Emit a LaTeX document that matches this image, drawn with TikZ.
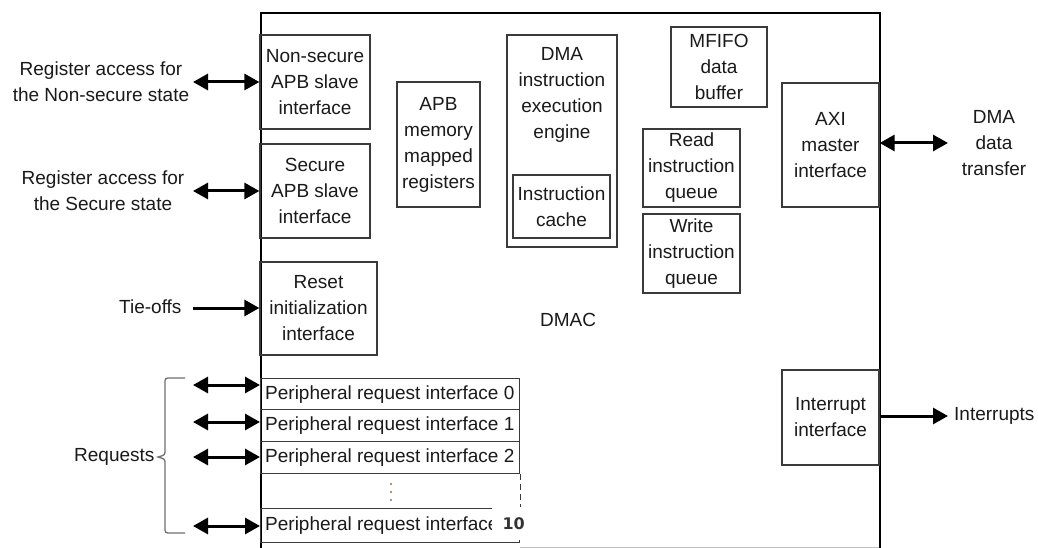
\documentclass[tikz,border=0pt]{standalone}
\usepackage{fontspec}
\setmainfont{Liberation Sans}
\newfontfamily\numfont{DejaVu Sans}
\usetikzlibrary{arrows.meta}
\definecolor{boxc}{HTML}{3A3A3A}
\definecolor{txt}{HTML}{1A1A1A}
\definecolor{numc}{HTML}{333333}
\definecolor{bracec}{HTML}{707070}
\begin{document}
\begin{tikzpicture}[x=1pt,y=-1pt,
  every node/.style={font=\fontsize{19}{26}\selectfont, text=txt},
  blk/.style={draw=boxc, line width=1.3pt, align=center, inner sep=0pt},
  prow/.style={draw=boxc, line width=1.3pt, minimum width=259pt, inner sep=0pt, anchor=north west},
  ptext/.style={anchor=west, inner sep=0pt},
  arr/.style={line width=3pt, -{Triangle[length=15pt,width=16pt]}},
  darr/.style={line width=3pt, {Triangle[length=15pt,width=16pt]}-{Triangle[length=15pt,width=16pt]}},
]
\useasboundingbox (0,0) rectangle (1038,548);
\fill[white] (0,0) rectangle (1038,548);

% outer DMAC box
\node[draw=black, line width=2pt, minimum width=619pt, minimum height=560pt, anchor=north west, inner sep=0pt] (dmac) at (260,12) {};
\draw[gray!50, line width=1pt] (520,547) -- (879,547);
\node (dmaclbl) at (568,320) {DMAC};

% internal blocks
\node[blk, minimum width=110pt, minimum height=94pt] (ns) at (315,82) {Non-secure\\APB slave\\interface};
\node[blk, minimum width=110pt, minimum height=94pt] (sec) at (315,191) {Secure\\APB slave\\interface};
\node[blk, minimum width=117pt, minimum height=93pt] (reset) at (318.5,308.5) {Reset\\initialization\\interface};
\node[blk, minimum width=83pt, minimum height=125pt] (apb) at (438.5,144.5) {APB\\memory\\mapped\\registers};
\node[blk, minimum width=110pt, minimum height=212pt] (dma) at (562,141) {};
\node[align=center, inner sep=0pt] (dmat) at (562,95) {DMA\\instruction\\execution\\engine};
\node[blk, minimum width=97pt, minimum height=63pt] (cache) at (561.5,206.5) {Instruction\\cache};
\node[blk, minimum width=96pt, minimum height=80pt] (mfifo) at (719,67) {MFIFO\\data\\buffer};
\node[blk, minimum width=97pt, minimum height=78pt] (rq) at (691.5,168) {Read\\instruction\\queue};
\node[blk, minimum width=97pt, minimum height=79pt] (wq) at (691.5,253.5) {Write\\instruction\\queue};
\node[blk, minimum width=97pt, minimum height=124pt] (axi) at (830.5,145) {AXI\\master\\interface};
\node[blk, minimum width=97pt, minimum height=95pt] (intr) at (830.5,417.5) {Interrupt\\interface};

% peripheral request interfaces
\node[prow, minimum height=31pt] (p0) at (260,378) {};
\node[prow, minimum height=32pt] (p1) at (260,409) {};
\node[prow, minimum height=32pt] (p2) at (260,441) {};
\node[prow, minimum height=34pt] (p10) at (260,508) {};
\node[ptext] (t0) at ([xshift=5pt]p0.west) {Peripheral request interface 0};
\node[ptext] (t1) at ([xshift=5pt]p1.west) {Peripheral request interface 1};
\node[ptext] (t2) at ([xshift=5pt]p2.west) {Peripheral request interface 2};
\node[ptext] (t10) at ([xshift=5pt]p10.west) {Peripheral request interface};
\draw[boxc, line width=1.3pt, dash pattern=on 6pt off 4pt] (p2.south east) -- (p10.north east);
\fill[bracec!80!orange] (391,484) circle (1.2pt) (391,492) circle (1.2pt) (391,500) circle (1.2pt);
\node[fill=white, minimum width=43pt, minimum height=33pt, anchor=north west, inner sep=0pt, font=\numfont\bfseries\fontsize{16}{18}\selectfont, text=numc] (ten) at (492,507) {10};

% left labels and arrows
\node[align=center] (lns) at (101,82) {Register access for\\the Non-secure state};
\node[align=center] (lsec) at (103,191) {Register access for\\the Secure state};
\node[anchor=east] (ltie) at (185,307) {Tie-offs};
\node[anchor=east] (lreq) at (158,457) {Requests};

\coordinate (ans) at (193,82);
\coordinate (asec) at (193,191);
\coordinate (atie) at (193,308);
\coordinate (a0) at (193,385);
\coordinate (a1) at (193,422);
\coordinate (a2) at (193,457);
\coordinate (a10) at (193,526);
\draw[darr] (ans) -- (ans -| ns.west);
\draw[darr] (asec) -- (asec -| sec.west);
\draw[arr] (atie) -- (atie -| reset.west);
\draw[darr] (a0) -- (a0 -| p0.west);
\draw[darr] (a1) -- (a1 -| p1.west);
\draw[darr] (a2) -- (a2 -| p2.west);
\draw[darr] (a10) -- (a10 -| p10.west);

% brace
\draw[bracec, line width=1.3pt] (185,378) -- (171,378) .. controls (165,378) .. (165,384) -- (165,450) .. controls (165,455) .. (158,457) .. controls (165,459) .. (165,464) -- (165,527) .. controls (165,533) .. (171,533) -- (185,533);

% right side
\node[align=center] (ldma) at (994,143) {DMA\\data\\transfer};
\node[anchor=west, inner sep=0pt] (lint) at (954,416) {Interrupts};
\coordinate (aaxi) at (948,143);
\coordinate (aint) at (948,416);
\draw[darr] (aaxi -| axi.east) -- (aaxi);
\draw[arr] (aint -| intr.east) -- (aint);
\end{tikzpicture}
\end{document}
